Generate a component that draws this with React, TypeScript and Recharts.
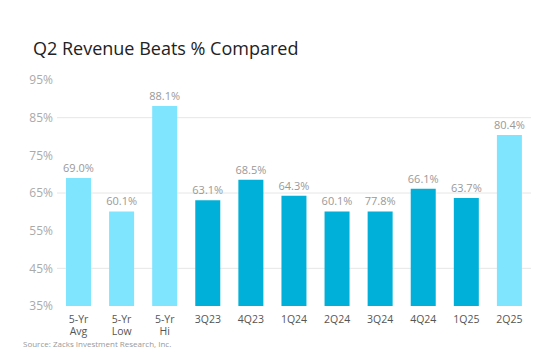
import React from 'react';
import { BarChart, Bar, XAxis, YAxis, Cell, LabelList, CartesianGrid } from 'recharts';

// Categories and values
const categories = ['5-Yr\nAvg', '5-Yr\nLow', '5-Yr\nHi', '3Q23', '4Q23', '1Q24', '2Q24', '3Q24', '4Q24', '1Q25', '2Q25'];
const beats = [69.0, 60.1, 88.1, 63.1, 68.5, 64.3, 60.1, 60.1, 66.1, 63.7, 80.4];
// the printed label for 3Q24 does not match its bar height in the source
const beatLabels = ['69.0%', '60.1%', '88.1%', '63.1%', '68.5%', '64.3%', '60.1%', '77.8%', '66.1%', '63.7%', '80.4%'];
const highlight = [true, true, true, false, false, false, false, false, false, false, true];
const yTicks = [35, 45, 55, 65, 75, 85, 95];
const gridValues = [45, 65, 85];

const LIGHT = '#7fe5ff';
const DARK = '#00b0d8';

const data = categories.map((name, i) => ({ name, value: beats[i], label: beatLabels[i] }));

const fontFamily = '"Open Sans", "Noto Sans", sans-serif';

const CategoryTick: React.FC<any> = ({ x, y, payload }) => {
  const lines = String(payload.value).split('\n');
  return (
    <text x={x} y={y + 9} textAnchor="middle" fill="#555" fontSize={10.5} fontFamily={fontFamily}>
      {lines.map((l, i) => (
        <tspan key={i} x={x} dy={i === 0 ? 0 : 11.5}>{l}</tspan>
      ))}
    </text>
  );
};

const TopLabel: React.FC<any> = ({ x, y, width, index }) => (
  <text x={x + width / 2} y={y - 6} textAnchor="middle" fill="#999" fontSize={11} fontFamily={fontFamily}>
    {beatLabels[index]}
  </text>
);

const App: React.FC = () => {
  return (
    <div style={{ position: 'absolute', left: 0, top: 0, width: 550, height: 360, background: '#fff', fontFamily }}>
      <div style={{ position: 'absolute', left: 33, top: 36, fontSize: 18, color: '#222' }}>
        Q2 Revenue Beats % Compared
      </div>
      <BarChart
        width={550}
        height={360}
        data={data}
        margin={{ top: 80, right: 19, left: 6, bottom: 24 }}
      >
        <CartesianGrid vertical={false} horizontalValues={gridValues} stroke="#e6e6e6" />
        <XAxis
          dataKey="name"
          axisLine={false}
          tickLine={false}
          interval={0}
          height={30}
          tick={<CategoryTick />}
        />
        <YAxis
          domain={[35, 95]}
          ticks={yTicks}
          axisLine={false}
          tickLine={false}
          tickSize={0}
          tickMargin={4}
          width={51}
          tickFormatter={(v) => `${v}%`}
          tick={{ fill: '#aaa', fontSize: 12, fontFamily }}
        />
        <Bar dataKey="value" barSize={25} isAnimationActive={false}>
          {data.map((d, i) => (
            <Cell key={d.name} fill={highlight[i] ? LIGHT : DARK} />
          ))}
          <LabelList dataKey="label" content={<TopLabel />} />
        </Bar>
      </BarChart>
      <div style={{ position: 'absolute', left: 23, top: 338, fontSize: 8, color: '#999' }}>
        Source: Zacks Investment Research, Inc.
      </div>
    </div>
  );
};

export default App;
